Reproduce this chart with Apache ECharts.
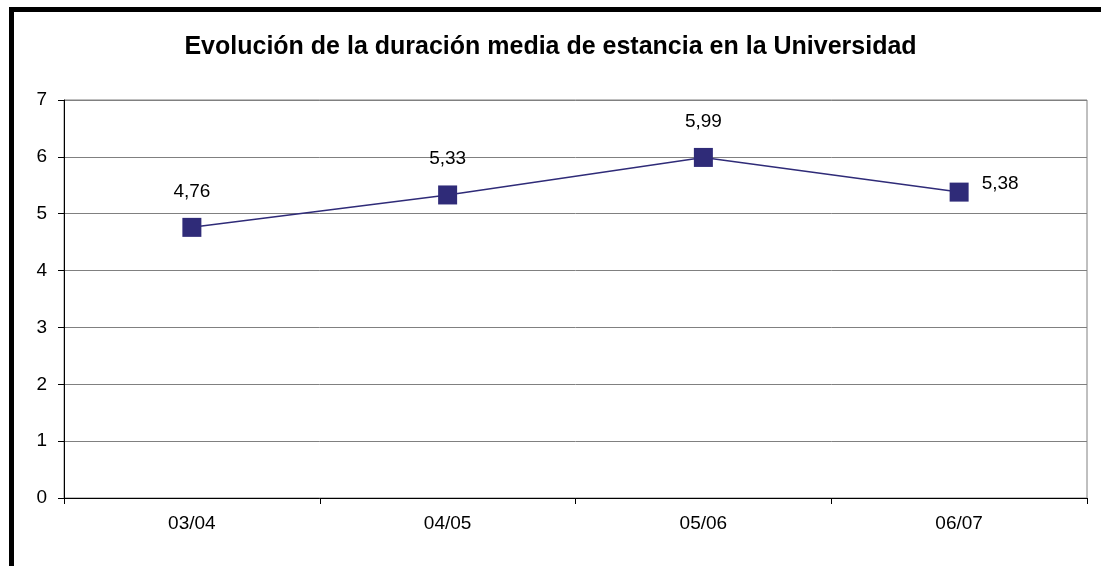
<!DOCTYPE html>
<html>
<head>
<meta charset="utf-8">
<script src="https://cdn.jsdelivr.net/npm/echarts@6/dist/echarts.min.js"></script>
<style>
  html, body { margin: 0; padding: 0; background: #fff; }
  #chart { width: 1101px; height: 566px; }
</style>
</head>
<body>
<div id="chart"></div>
<script>
// datos del gráfico
const cursos = ["03/04", "04/05", "05/06", "06/07"]
const duracionMedia = [4.76, 5.33, 5.99, 5.38]
const yMin = 0
const yMax = 7

const myChart = echarts.init(document.getElementById("chart"))

const serieColor = "#2f2b78"
const fuente = "'Liberation Sans', Arial, sans-serif"

const option = {
  animation: false,
  title: {
    text: "Evolución de la duración media de estancia en la Universidad",
    left: "center",
    top: 30,
    textStyle: { fontFamily: fuente, fontWeight: "bold", fontSize: 25, color: "#000" }
  },
  graphic: [
    {
      // marco exterior (recortado a derecha y abajo)
      type: "rect",
      shape: { x: 11.5, y: 9.5, width: 1300, height: 800 },
      style: { fill: "none", stroke: "#000", lineWidth: 5 },
      silent: true
    }
  ],
  grid: {
    left: 64,
    right: 14,
    top: 100,
    bottom: 68,
    show: true,
    borderColor: "#808080",
    borderWidth: 1
  },
  xAxis: {
    type: "category",
    data: cursos,
    boundaryGap: true,
    axisLine: { lineStyle: { color: "#000", width: 1 } },
    axisTick: { show: true, length: 6, lineStyle: { color: "#000" } },
    axisLabel: { fontFamily: fuente, fontSize: 19, color: "#000", margin: 16 },
    splitLine: { show: false }
  },
  yAxis: {
    type: "value",
    min: yMin,
    max: yMax,
    interval: 1,
    axisLine: { show: true, lineStyle: { color: "#000", width: 1 } },
    axisTick: { show: true, length: 6, lineStyle: { color: "#000" } },
    axisLabel: { fontFamily: fuente, fontSize: 19, color: "#000", margin: 17 },
    splitLine: { show: true, lineStyle: { color: "#808080", width: 1 } }
  },
  series: [
    {
      name: "Duración media",
      type: "line",
      data: duracionMedia.map((v, i) => {
        const item = { value: v }
        if (i === duracionMedia.length - 1) {
          item.label = { position: "right", offset: [-4, -8] }
        }
        return item
      }),
      symbol: "rect",
      symbolSize: 19,
      itemStyle: { color: serieColor },
      lineStyle: { color: serieColor, width: 1.5 },
      label: {
        show: true,
        position: "top",
        distance: 17,
        fontFamily: fuente,
        fontSize: 19,
        color: "#000",
        formatter: (p) => p.value.toFixed(2).replace(".", ",")
      }
    }
  ]
}

myChart.setOption(option)
</script>
</body>
</html>
